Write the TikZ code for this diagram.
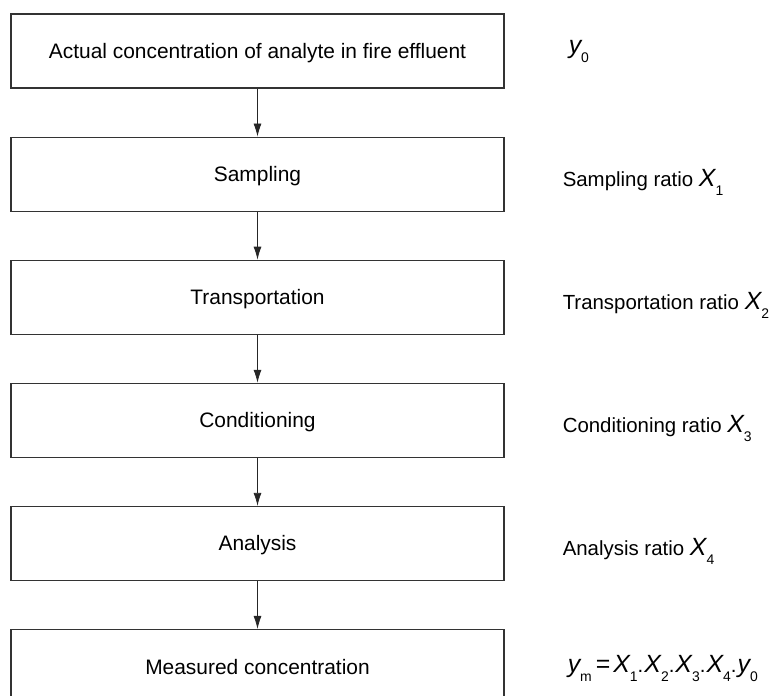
\documentclass[tikz,border=0pt]{standalone}
\usepackage{fontspec}
\setmainfont{Liberation Sans}
\usetikzlibrary{arrows.meta, positioning}
\newcommand{\ivar}[2]{{\fontsize{25}{28}\selectfont\itshape #1}\raisebox{-9bp}{\fontsize{14}{15}\selectfont #2}}

\begin{document}
\begin{tikzpicture}[x=1bp, y=1bp,
    stage/.style={draw=black!80, line width=1.1bp, minimum width=493bp, minimum height=74bp, inner sep=0pt, text depth=0pt, font=\fontsize{21}{24}\selectfont},
    ratio/.style={inner sep=0pt, font=\fontsize{20.5}{24}\selectfont},
    flow/.style={-{Latex[length=13bp, width=8bp]}, draw=black!85, line width=0.8bp}]
  \useasboundingbox (0,0) rectangle (771,-696);

  % stages
  \node[stage] (actual) at (257.5,-51) {Actual concentration of analyte in fire effluent};
  \node[stage, below=48bp of actual] (sampling) {Sampling};
  \node[stage, below=48bp of sampling] (transport) {Transportation};
  \node[stage, below=48bp of transport] (conditioning) {Conditioning};
  \node[stage, below=48bp of conditioning] (analysis) {Analysis};
  \node[stage, below=48bp of analysis] (measured) {Measured concentration};

  \draw[flow] (actual) -- (sampling);
  \draw[flow] (sampling) -- (transport);
  \draw[flow] (transport) -- (conditioning);
  \draw[flow] (conditioning) -- (analysis);
  \draw[flow] (analysis) -- (measured);

  % ratios
  \node[ratio, right=64bp of actual, anchor=base west, yshift=-3bp] (y0) {\ivar{y}{0}};
  \node[ratio, right=58bp of sampling, anchor=base west, yshift=-12bp] (x1) {Sampling ratio \ivar{X}{1}};
  \node[ratio, right=58bp of transport, anchor=base west, yshift=-12bp] (x2) {Transportation ratio \ivar{X}{2}};
  \node[ratio, right=58bp of conditioning, anchor=base west, yshift=-12bp] (x3) {Conditioning ratio \ivar{X}{3}};
  \node[ratio, right=58bp of analysis, anchor=base west, yshift=-12bp] (x4) {Analysis ratio \ivar{X}{4}};
  \node[ratio, right=63bp of measured, anchor=base west, yshift=-6bp] (ym) {\ivar{y}{m}\hspace{4bp}{\fontsize{25}{28}\selectfont =}\hspace{3bp}\ivar{X}{1}.\hspace{1bp}\ivar{X}{2}.\hspace{1bp}\ivar{X}{3}.\hspace{1bp}\ivar{X}{4}.\hspace{1bp}\ivar{y}{0}};
\end{tikzpicture}
\end{document}
